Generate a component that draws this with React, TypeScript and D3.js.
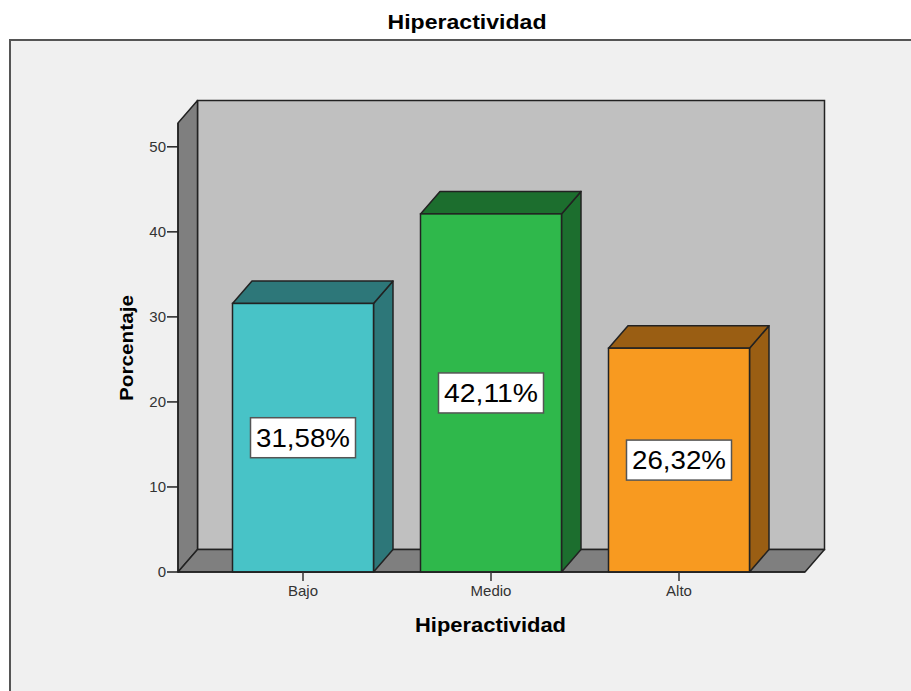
import React from 'react';
import * as d3 from 'd3';

const categories = ['Bajo', 'Medio', 'Alto'];
const values = [31.58, 42.11, 26.32];
const valueLabels = ['31,58%', '42,11%', '26,32%'];
const yTicks = [0, 10, 20, 30, 40, 50];
const frontColors = ['#48c3c7', '#2fb84b', '#f89a20'];
const darkColors = ['#2d7779', '#1c6e2e', '#9a5e13'];

const W = 911;
const H = 691;
const FONT = "'Liberation Sans', Arial, sans-serif";

const App = () => {
  // front plane
  const x0 = 178;
  const x1 = 805;
  const yBase = 572;
  // depth offset
  const dx = 19.5;
  const dy = -22.5;

  const y = d3.scaleLinear().domain([0, 52.8]).range([yBase, 123]);
  const x = d3.scaleBand<string>()
    .domain(categories)
    .range([209, 773])
    .paddingInner(0.25)
    .paddingOuter(0.125);

  const wallTop = y(52.8);

  return (
    <svg width={W} height={H} style={{ position: 'absolute', left: 0, top: 0 }}>
      <rect x={0} y={0} width={W} height={H} fill="#ffffff" />
      <rect x={10} y={40} width={W + 20} height={H + 20} fill="#f0f0f0" stroke="#555" strokeWidth={2} />

      <text x={467} y={29} textAnchor="middle" fontFamily={FONT} fontWeight="bold" fontSize={20}
        textLength={159} lengthAdjust="spacingAndGlyphs" fill="#000">Hiperactividad</text>

      {/* back wall */}
      <rect x={x0 + dx} y={wallTop + dy} width={x1 - x0} height={yBase - wallTop}
        fill="#c0c0c0" stroke="#222" strokeWidth={1.5} />
      {/* left wall */}
      <polygon
        points={`${x0},${yBase} ${x0},${wallTop} ${x0 + dx},${wallTop + dy} ${x0 + dx},${yBase + dy}`}
        fill="#7f7f7f" stroke="#222" strokeWidth={1.5} strokeLinejoin="round" />
      {/* floor */}
      <polygon
        points={`${x0},${yBase} ${x1},${yBase} ${x1 + dx},${yBase + dy} ${x0 + dx},${yBase + dy}`}
        fill="#7f7f7f" stroke="#222" strokeWidth={1.5} strokeLinejoin="round" />

      {/* y axis */}
      <line x1={x0} x2={x0} y1={yBase} y2={wallTop} stroke="#222" strokeWidth={1.5} />
      {yTicks.map(t => (
        <g key={t}>
          <line x1={x0 - 11} x2={x0} y1={y(t)} y2={y(t)} stroke="#222" strokeWidth={1.5} />
          <text x={x0 - 12} y={y(t)} dy="0.35em" textAnchor="end" fontFamily={FONT} fontSize={15} fill="#333">{t}</text>
        </g>
      ))}
      <text transform={`translate(133,348) rotate(-90)`} textAnchor="middle" fontFamily={FONT}
        fontWeight="bold" fontSize={19} textLength={106} lengthAdjust="spacingAndGlyphs" fill="#000">Porcentaje</text>

      {/* bars */}
      {categories.map((c, i) => {
        const bx0 = x(c) as number;
        const bx1 = bx0 + x.bandwidth();
        const top = y(values[i]);
        return (
          <g key={c}>
            <polygon
              points={`${bx1},${top} ${bx1 + dx},${top + dy} ${bx1 + dx},${yBase + dy} ${bx1},${yBase}`}
              fill={darkColors[i]} stroke="#222" strokeWidth={1.5} strokeLinejoin="round" />
            <polygon
              points={`${bx0},${top} ${bx0 + dx},${top + dy} ${bx1 + dx},${top + dy} ${bx1},${top}`}
              fill={darkColors[i]} stroke="#222" strokeWidth={1.5} strokeLinejoin="round" />
            <rect x={bx0} y={top} width={bx1 - bx0} height={yBase - top}
              fill={frontColors[i]} stroke="#222" strokeWidth={1.5} />
          </g>
        );
      })}

      {/* x axis */}
      <line x1={x0} x2={x1} y1={yBase} y2={yBase} stroke="#222" strokeWidth={1.5} />
      {categories.map(c => {
        const cx = (x(c) as number) + x.bandwidth() / 2;
        return (
          <g key={c}>
            <line x1={cx} x2={cx} y1={yBase} y2={yBase + 9} stroke="#333" strokeWidth={1.5} />
            <text x={cx} y={596} textAnchor="middle" fontFamily={FONT} fontSize={15} fill="#333">{c}</text>
          </g>
        );
      })}
      <text x={490.5} y={632} textAnchor="middle" fontFamily={FONT} fontWeight="bold" fontSize={20}
        textLength={151} lengthAdjust="spacingAndGlyphs" fill="#000">Hiperactividad</text>

      {/* value labels */}
      {categories.map((c, i) => {
        const cx = (x(c) as number) + x.bandwidth() / 2;
        const cy = (y(values[i]) + yBase) / 2;
        return (
          <g key={c}>
            <rect x={cx - 52.5} y={cy - 20} width={105} height={40} fill="#fff" stroke="#555" strokeWidth={1.5} />
            <text x={cx} y={cy} dy="0.36em" textAnchor="middle" fontFamily={FONT} fontSize={26}
              textLength={94} lengthAdjust="spacingAndGlyphs" fill="#000">{valueLabels[i]}</text>
          </g>
        );
      })}
    </svg>
  );
};

export default App;
